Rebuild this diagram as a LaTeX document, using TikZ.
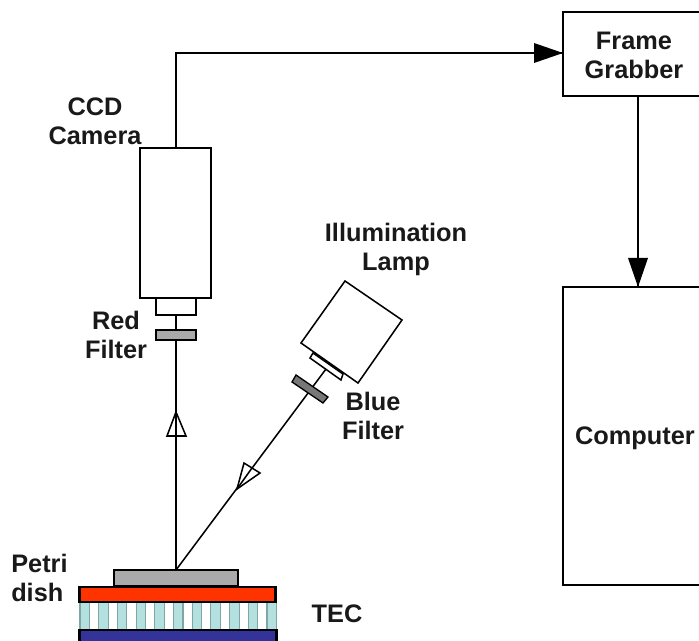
\documentclass[tikz,border=0pt]{standalone}
\usepackage{fontspec}
\setmainfont{Liberation Sans}
\definecolor{tecred}{HTML}{FF3300}
\definecolor{tecblue}{HTML}{333399}
\definecolor{post}{HTML}{B5E0E0}
\definecolor{postedge}{HTML}{7FA5A5}
\definecolor{dishgray}{HTML}{AAAAAA}
\definecolor{bluefilt}{HTML}{777777}
\tikzset{
 lbl/.style={font=\bfseries\fontsize{19}{21.8}\selectfont,align=center,inner sep=0pt,text=black!90},
 wire/.style={draw=black,line width=1.5pt},
 box/.style={draw=black,line width=1.4pt,fill=white},
 thin box/.style={draw=black,line width=1.15pt,fill=white},
}
\begin{document}
\begin{tikzpicture}[x=0.75pt,y=-0.75pt]
\useasboundingbox (0,0) rectangle (699,641);
% boxes
\draw[box] (563,12) rectangle (705,96);
\coordinate (fgW) at (563,53);
\coordinate (fgS) at (638,96);
\draw[box] (563,287) rectangle (705,585);
\coordinate (cpN) at (638,287);
\draw[box] (140,148) rectangle (211,298);
\coordinate (camN) at (176,148);
\coordinate (camS) at (176,298);
\draw[thin box] (156,298) rectangle (196,315);
\coordinate (lensS) at (176,315);
% TEC
\coordinate (hit) at (176,570);
\draw[draw=black,line width=1.15pt,fill=dishgray] (114,570) rectangle (238,586);
\foreach \i in {0,...,10}{
  \fill[post,draw=postedge,line width=.8pt] ({80+\i*18.7},602) rectangle ({89.5+\i*18.7},630);
}
\draw[draw=black,line width=1.7pt,fill=tecred] (79.5,587) rectangle (275.5,602);
\draw[draw=black,line width=1.7pt,fill=tecblue] (79.5,630) rectangle (276.5,645);
% wires
\draw[wire] (camN) -- (176,53) -- (fgW);
\fill[black] (fgW) -- (534,43) -- (534,63) -- cycle;
\draw[wire] (fgS) -- (cpN);
\fill[black] (cpN) -- (628,258) -- (648,258) -- cycle;
\draw[wire] (lensS) -- (hit);
\draw[draw=black,line width=1.15pt,fill=dishgray] (156,330) rectangle (196,340);
\draw[thin box] (176,412) -- (167,436) -- (186,436) -- cycle;
\draw[wire] (176,412) -- (176,436);
% lamp
\draw[thin box] (345,281) -- (402,320) -- (358,383) -- (301,343) -- cycle;
\draw[thin box] (313,353) -- (343,374) -- (341,380) -- (310,358) -- cycle;
\coordinate (lampS) at (326,369);
\draw[draw=black,line width=1.15pt] (lampS) -- (hit);
\draw[draw=black,line width=1pt,fill=bluefilt] (296,375) -- (328,397) -- (323,403) -- (292,382) -- cycle;
\draw[thin box] (237,489) -- (244,463) -- (260,473) -- cycle;
\draw[draw=black,line width=1.15pt] (252,468) -- (237,489);
% labels
\node[lbl] (ccd) at (95,121) {CCD\\Camera};
\node[lbl] (red) at (116,335) {Red\\Filter};
\node[lbl] (ill) at (396,249) {Illumination\\Lamp};
\node[lbl] (blu) at (373,416) {Blue\\Filter};
\node[lbl,align=left,anchor=west] (pet) at (11,578) {Petri\\dish};
\node[lbl] (tec) at (337,614) {TEC};
\node[lbl] (fg) at (634,55) {Frame\\Grabber};
\node[lbl] (cp) at (635,438) {Computer};
\end{tikzpicture}
\end{document}
